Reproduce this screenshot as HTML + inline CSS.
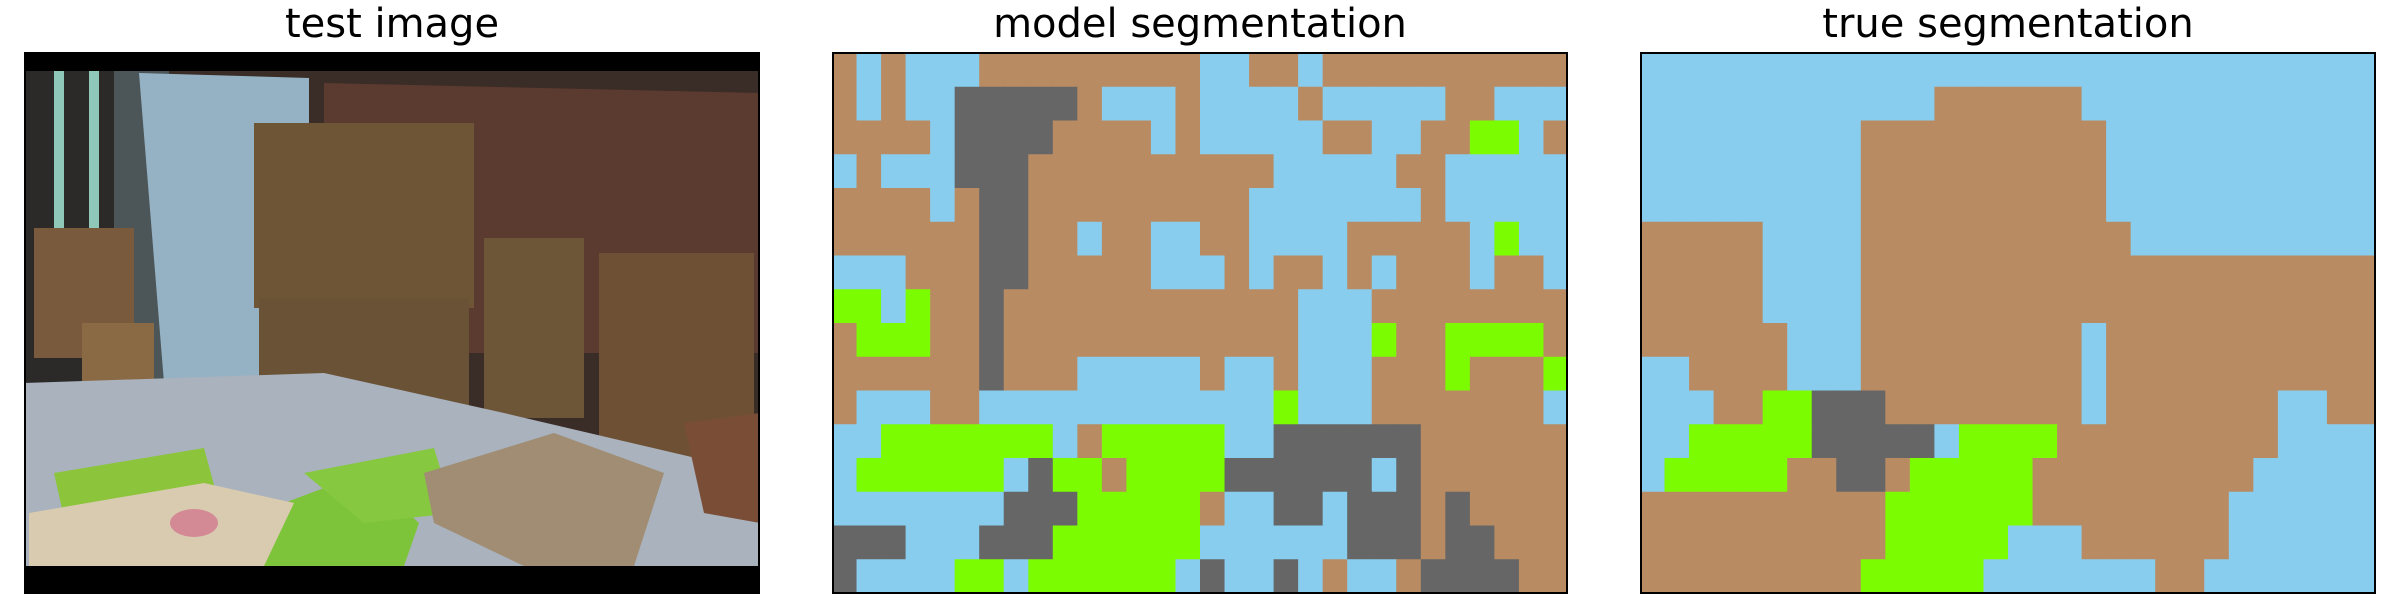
<!DOCTYPE html>
<html><head><meta charset="utf-8"><style>
html,body{margin:0;padding:0;background:#fff;}
#root{position:relative;width:2400px;height:600px;overflow:hidden;background:#fff;font-family:"DejaVu Sans","Liberation Sans",sans-serif;}
.title{position:absolute;top:2px;width:736px;text-align:center;font-size:40px;color:#000;line-height:44px;}
.panel{position:absolute;top:53px;width:736px;height:540px;box-sizing:border-box;}
.frame{position:absolute;top:52px;width:736px;height:542px;border:2px solid #000;box-sizing:border-box;pointer-events:none;}
</style></head><body>
<div id="root">
<div class="title" style="left:24px">test image</div>
<div class="title" style="left:832px">model segmentation</div>
<div class="title" style="left:1640px">true segmentation</div>

<svg class="panel" style="left:24px" width="736" height="540" viewBox="0 0 736 540">
<rect x="0" y="0" width="736" height="540" fill="#000"/>
<rect x="0" y="18" width="736" height="495" fill="#3a2c26"/>
<polygon points="300,30 736,40 736,300 300,300" fill="#5b3a30"/>
<polygon points="0,18 110,18 110,360 0,360" fill="#2c2a28"/>
<rect x="30" y="18" width="10" height="170" fill="#8fc8b8"/>
<rect x="65" y="18" width="10" height="170" fill="#8fc8b8"/>
<polygon points="90,18 145,18 145,340 120,350 90,330" fill="#4c5558"/>
<polygon points="115,20 285,25 285,330 140,330" fill="#95b2c4"/>
<rect x="10" y="175" width="100" height="130" fill="#7a5a3c"/>
<rect x="58" y="270" width="72" height="60" fill="#8a6a45"/>
<rect x="230" y="70" width="220" height="185" fill="#6e5536"/>
<rect x="235" y="245" width="210" height="165" fill="#6a5236"/>
<rect x="460" y="185" width="100" height="180" fill="#6d5538"/>
<rect x="575" y="200" width="155" height="220" fill="#6e5135"/>
<polygon points="0,330 300,320 480,360 736,420 736,513 0,513" fill="#a9b2bd"/>
<polygon points="30,420 180,395 195,450 110,480 40,465" fill="#8cc43c"/>
<polygon points="150,500 260,450 340,420 395,470 380,513 200,513" fill="#7ec43a"/>
<polygon points="280,420 410,395 430,460 340,470" fill="#86c840"/>
<polygon points="5,460 180,430 270,450 240,513 5,513" fill="#d9cbb0"/>
<ellipse cx="170" cy="470" rx="24" ry="14" fill="#d38a95"/>
<polygon points="400,420 530,380 640,420 610,513 500,513 410,470" fill="#a08d74"/>
<polygon points="660,370 736,360 736,470 680,460" fill="#7a4d36"/>
</svg>
<div class="frame" style="left:24px"></div>

<svg id="model" class="panel" style="left:832px" width="736" height="540"></svg>
<div class="frame" style="left:832px"></div>
<svg id="truth" class="panel" style="left:1640px" width="736" height="540"></svg>
<div class="frame" style="left:1640px"></div>
</div>
<script>
const classColors = {B:"#b98b62", L:"#88cdee", G:"#666666", V:"#7cfc00"};
const classNames = {B:"brown", L:"blue", G:"gray", V:"green"};
const modelRows = [
"BLBLLLBBBBBBBBBLLBBLBBBBBBBBBB",
"BLBLLGGGGGBLLLBLLLLBLLLLLBBLLL",
"BBBBLGGGGBBBBLBLLLLLBBLLBBVVLB",
"LBLLLGGGBBBBBBBBBBLLLLLBBLLLLL",
"BBBBLBGGBBBBBBBBBLLLLLLLBLLLLL",
"BBBBBBGGBBLBBLLBBLLLLBBBBBLVLL",
"LLLBBBGGBBBBBLLLBLBBLBLBBBLBBL",
"VVLVBBGBBBBBBBBBBBBLLLBBBBBBBB",
"BVVVBBGBBBBBBBBBBBBLLLVBBVVVVB",
"BBBBBBGBBBLLLLLBLLBLLLBBBVBBBV",
"BLLLBBLLLLLLLLLLLLVLLLBBBBBBBL",
"LLVVVVVVVLBVVVVVLLGGGGGGBBBBBB",
"LVVVVVVLGVVBVVVVGGGGGGLGBBBBBB",
"LLLLLLLGGGVVVVVBLLGGLGGGBGBBBB",
"GGGLLLGGGVVVVVVLLLLLLGGGBGGBBB",
"GLLLLVVLVVVVVVLGLLGLBLLBGGGGBB"
];
const trueRows = [
"LLLLLLLLLLLLLLLLLLLLLLLLLLLLLL",
"LLLLLLLLLLLLBBBBBBLLLLLLLLLLLL",
"LLLLLLLLLBBBBBBBBBBLLLLLLLLLLL",
"LLLLLLLLLBBBBBBBBBBLLLLLLLLLLL",
"LLLLLLLLLBBBBBBBBBBLLLLLLLLLLL",
"BBBBBLLLLBBBBBBBBBBBLLLLLLLLLL",
"BBBBBLLLLBBBBBBBBBBBBBBBBBBBBB",
"BBBBBLLLLBBBBBBBBBBBBBBBBBBBBB",
"BBBBBBLLLBBBBBBBBBLBBBBBBBBBBB",
"LLBBBBLLLBBBBBBBBBLBBBBBBBBBBB",
"LLLBBVVGGGBBBBBBBBLBBBBBBBLLBB",
"LLVVVVVGGGGGLVVVVBBBBBBBBBLLLL",
"LVVVVVBBGGBVVVVVBBBBBBBBBLLLLL",
"BBBBBBBBBBVVVVVVBBBBBBBBLLLLLL",
"BBBBBBBBBBVVVVVLLLBBBBBBLLLLLL",
"BBBBBBBBBVVVVVLLLLLLLBBLLLLLLL"
];
function drawGrid(svgId, rows, prefix){
  const svg = document.getElementById(svgId);
  const W = 736, H = 540;
  const nr = rows.length, nc = rows[0].length;
  const xs = c => c * W / nc;
  const ys = r => r * H / nr;
  for (let r = 0; r < nr; r++) {
    for (let c = 0; c < nc; c++) {
      const k = rows[r][c];
      const rect = document.createElementNS("http://www.w3.org/2000/svg","rect");
      rect.setAttribute("x", xs(c));
      rect.setAttribute("y", ys(r));
      rect.setAttribute("width", xs(c+1) - xs(c) + 0.6);
      rect.setAttribute("height", ys(r+1) - ys(r) + 0.6);
      rect.setAttribute("fill", classColors[k]);
      
      
      svg.appendChild(rect);
    }
  }
}
drawGrid("model", modelRows, "model");
drawGrid("truth", trueRows, "true");
</script>
</body></html>
